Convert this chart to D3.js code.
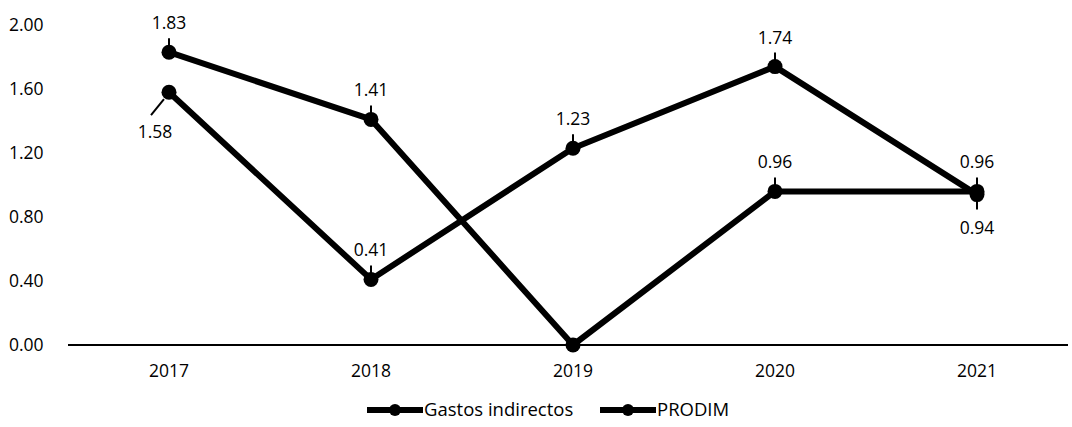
<!DOCTYPE html>
<html><head><meta charset="utf-8">
<script src="https://cdn.jsdelivr.net/npm/d3@7/dist/d3.min.js"></script>
<style>
body{margin:0;background:#fff;}
svg text{font-family:"Open Sans","Noto Sans",sans-serif;fill:#000;}
</style></head><body>
<svg id="c" width="1072" height="427"></svg>
<script>
const years = ["2017","2018","2019","2020","2021"];
const gastosIndirectos = [1.83, 1.41, 0.00, 0.96, 0.96];
const prodim = [1.58, 0.41, 1.23, 1.74, 0.94];
const yTicks = [0, 0.4, 0.8, 1.2, 1.6, 2.0];
const seriesNames = ["Gastos indirectos", "PRODIM"];

// label placement (style only)
const place1 = ["up","up",null,"up","up"];
const place2 = ["downleft","up","up","up","down"];

const FS = 17.5;
const svg = d3.select("#c");
const x = d3.scaleBand().domain(years).range([68,1078]);
const y = d3.scaleLinear().domain([0,2]).range([345,25]);
const cx = d => x(d) + x.bandwidth()/2;

// y tick labels
svg.append("g").selectAll("text").data(yTicks).join("text")
  .attr("x",9).attr("y",d=>y(d)).attr("dy","0.35em")
  .attr("font-size",FS).text(d=>d.toFixed(2));

// x axis line
svg.append("line").attr("x1",68).attr("x2",1068).attr("y1",y(0)).attr("y2",y(0))
  .attr("stroke","#000").attr("stroke-width",2);

// x labels
svg.append("g").selectAll("text").data(years).join("text")
  .attr("x",d=>cx(d)).attr("y",y(0)+32).attr("text-anchor","middle")
  .attr("font-size",FS).text(d=>d);

const line = d3.line().x(d=>cx(d.year)).y(d=>y(d.v));
function drawSeries(vals, places){
  const data = years.map((yr,i)=>({year:yr, v:vals[i], p:places[i]}));
  svg.append("path").datum(data).attr("d",line)
    .attr("fill","none").attr("stroke","#000").attr("stroke-width",6)
    .attr("stroke-linejoin","round");
  svg.append("g").selectAll("circle").data(data).join("circle")
    .attr("cx",d=>cx(d.year)).attr("cy",d=>y(d.v)).attr("r",7.5).attr("fill","#000");
  const lab = svg.append("g");
  data.forEach(d=>{
    if(!d.p) return;
    const px = cx(d.year), py = y(d.v);
    if(d.p==="up"){
      lab.append("line").attr("x1",px).attr("x2",px).attr("y1",py-14).attr("y2",py-6)
        .attr("stroke","#000").attr("stroke-width",2);
      lab.append("text").attr("x",px).attr("y",py-23).attr("text-anchor","middle")
        .attr("font-size",FS).text(d.v.toFixed(2));
    } else if(d.p==="down"){
      lab.append("line").attr("x1",px).attr("x2",px).attr("y1",py+6).attr("y2",py+15)
        .attr("stroke","#000").attr("stroke-width",2);
      lab.append("text").attr("x",px).attr("y",py+39).attr("text-anchor","middle")
        .attr("font-size",FS).text(d.v.toFixed(2));
    } else {
      lab.append("line").attr("x1",px-5).attr("x2",px-18).attr("y1",py+7).attr("y2",py+23)
        .attr("stroke","#000").attr("stroke-width",2);
      lab.append("text").attr("x",px-14).attr("y",py+46).attr("text-anchor","middle")
        .attr("font-size",FS).text(d.v.toFixed(2));
    }
  });
}
drawSeries(gastosIndirectos, place1);
drawSeries(prodim, place2);

// legend
const leg = svg.append("g");
const legX = [367, 600];
seriesNames.forEach((n,i)=>{
  const lx = legX[i], ly = 410;
  leg.append("line").attr("x1",lx).attr("x2",lx+56).attr("y1",ly).attr("y2",ly)
    .attr("stroke","#000").attr("stroke-width",6);
  leg.append("circle").attr("cx",lx+28).attr("cy",ly).attr("r",6).attr("fill","#000");
  leg.append("text").attr("x",lx+57).attr("y",ly).attr("dy","0.35em")
    .attr("font-size",18.5).text(n);
});
</script></body></html>
